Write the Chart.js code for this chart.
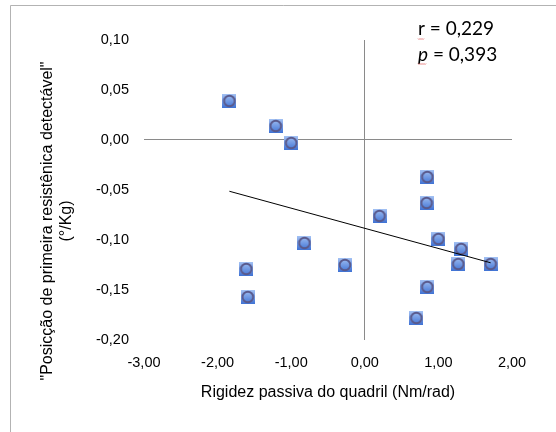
<!DOCTYPE html>
<html>
<head>
<meta charset="utf-8">
<script src="https://cdn.jsdelivr.net/npm/chart.js@4.4.1/dist/chart.umd.min.js"></script>
<style>
  html, body { margin: 0; padding: 0; background: #fff; }
  canvas { display: block; }
</style>
</head>
<body>
<canvas id="chart" width="556" height="432"></canvas>
<script>
// values
const rigidez = [-1.84, -1.21, -1.00, 0.85, 0.84, 0.20, -0.82, 1.00, 1.31, -0.27, 1.27, 1.71, -1.61, -1.59, 0.85, 0.70];
const posicao = [0.039, 0.014, -0.003, -0.037, -0.063, -0.076, -0.103, -0.099, -0.109, -0.125, -0.124, -0.124, -0.129, -0.157, -0.147, -0.178];
const xTitle = 'Rigidez passiva do quadril (Nm/rad)';
const yTitle = ['"Posicção de primeira resistênica detectável"', '(°/Kg)'];
const statR = '0,229';
const statP = '0,393';

const points = rigidez.map((x, i) => ({ x: x, y: posicao[i] }));

// linear trendline (least squares), drawn from min x to max x
const n = rigidez.length;
const mx = rigidez.reduce((a, b) => a + b, 0) / n;
const my = posicao.reduce((a, b) => a + b, 0) / n;
let sxy = 0, sxx = 0;
rigidez.forEach((x, i) => {
  sxy += (x - mx) * (posicao[i] - my);
  sxx += (x - mx) * (x - mx);
});
const slope = sxy / sxx;
const icept = my - slope * mx;
const x0 = Math.min(...rigidez), x1 = Math.max(...rigidez);
const trend = [{ x: x0, y: icept + slope * x0 }, { x: x1, y: icept + slope * x1 }];

// excel-like marker: blue gradient square with a ring
function makeMarker() {
  const c = document.createElement('canvas');
  c.width = 14; c.height = 14;
  const g = c.getContext('2d');
  const grad = g.createLinearGradient(0, 0, 0, 14);
  grad.addColorStop(0, '#a4c2f4');
  grad.addColorStop(1, '#3f72d4');
  g.fillStyle = grad;
  g.fillRect(0, 0, 14, 14);
  g.beginPath();
  g.arc(7, 7, 5.3, 0, Math.PI * 2);
  g.strokeStyle = '#5a5a8c';
  g.lineWidth = 1.9;
  g.stroke();
  return c;
}

function fmt(v) {
  if (Math.abs(v) < 1e-9) v = 0;
  return v.toFixed(2).replace('.', ',');
}

function zeroLine(ctx) {
  return Math.abs(ctx.tick.value) < 1e-9 ? '#8a8a8a' : 'rgba(0,0,0,0)';
}

function squiggle(ctx, x, y, w) {
  ctx.save();
  ctx.strokeStyle = '#e06060';
  ctx.lineWidth = 0.8;
  ctx.beginPath();
  ctx.moveTo(x, y);
  for (let i = 1; i <= w; i++) {
    ctx.lineTo(x + i, y + (i % 2 ? 1 : 0));
  }
  ctx.stroke();
  ctx.restore();
}

const extras = {
  id: 'extras',
  beforeDraw(chart) {
    const ctx = chart.ctx;
    ctx.save();
    ctx.strokeStyle = '#b3b3b3';
    ctx.lineWidth = 1;
    ctx.beginPath();
    ctx.moveTo(10.5, 432);
    ctx.lineTo(10.5, 5.5);
    ctx.lineTo(556, 5.5);
    ctx.stroke();
    ctx.restore();
  },
  afterDraw(chart) {
    const ctx = chart.ctx;
    ctx.save();
    // y axis title, centred a bit below the plot middle like the original
    ctx.fillStyle = '#000';
    ctx.font = '16px "Liberation Sans"';
    ctx.textAlign = 'center';
    ctx.textBaseline = 'middle';
    yTitle.forEach((line, i) => {
      ctx.save();
      ctx.translate(48 + i * 19, 221);
      ctx.rotate(-Math.PI / 2);
      ctx.fillText(line, 0, 0);
      ctx.restore();
    });

    ctx.textAlign = 'left';
    ctx.font = '19px Lato';
    ctx.fillText('r = ' + statR, 418, 29);
    ctx.font = 'italic 19px Lato';
    ctx.fillText('p', 418, 55);
    const pw = ctx.measureText('p').width;
    ctx.font = '19px Lato';
    ctx.fillText(' = ' + statP, 418 + pw, 55);
    squiggle(ctx, 418, 38.5, 6);
    squiggle(ctx, 418, 63.5, 8);
    ctx.restore();
  }
};

const marker = makeMarker();

new Chart(document.getElementById('chart'), {
  type: 'scatter',
  data: {
    datasets: [
      {
        type: 'line',
        data: trend,
        borderColor: '#000',
        borderWidth: 1,
        pointRadius: 0,
        fill: false,
        order: 0
      },
      {
        data: points,
        pointStyle: marker,
        pointRadius: 7,
        order: 1
      }
    ]
  },
  options: {
    responsive: false,
    animation: false,
    layout: { padding: { top: 40, right: 44, bottom: 0, left: 0 } },
    plugins: {
      legend: { display: false },
      tooltip: { enabled: false }
    },
    scales: {
      x: {
        type: 'linear',
        min: -3,
        max: 2,
        afterFit(scale) { scale.height = 92; },
        ticks: {
          stepSize: 1,
          padding: 14,
          color: '#000',
          font: { family: 'Liberation Sans', size: 14.5 },
          callback: v => fmt(v)
        },
        grid: { color: zeroLine, drawTicks: false, lineWidth: 1 },
        border: { display: false },
        title: {
          display: true,
          text: xTitle,
          color: '#000',
          font: { family: 'Liberation Sans', size: 16 },
          padding: { top: 0, bottom: 30 }
        }
      },
      y: {
        type: 'linear',
        min: -0.2,
        max: 0.1,
        afterFit(scale) { scale.width = 144; },
        ticks: {
          stepSize: 0.05,
          padding: 15,
          color: '#000',
          font: { family: 'Liberation Sans', size: 14.5 },
          callback: v => fmt(v)
        },
        grid: { color: zeroLine, drawTicks: false, lineWidth: 1 },
        border: { display: false }
      }
    }
  },
  plugins: [extras]
});
</script>
</body>
</html>
